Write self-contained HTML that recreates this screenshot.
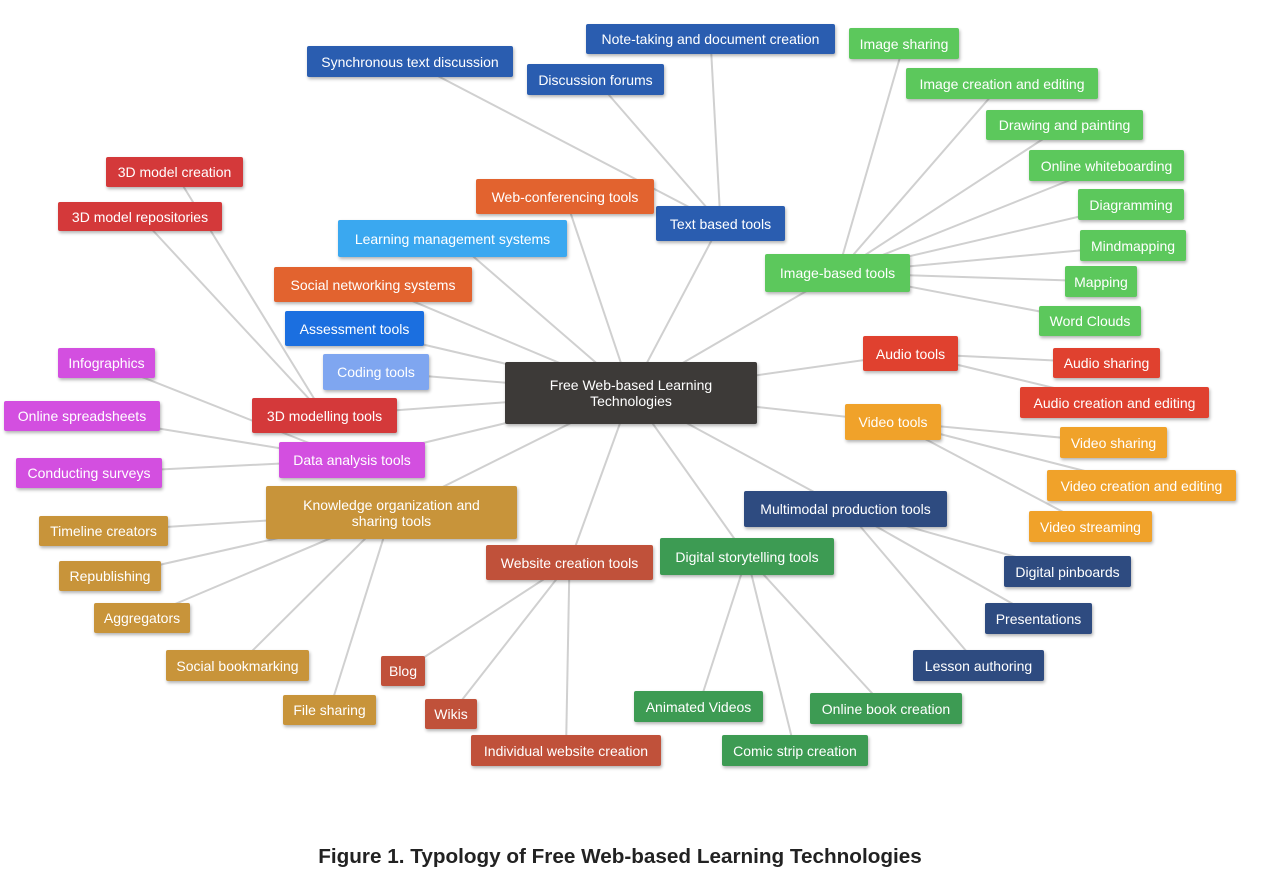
<!DOCTYPE html>
<html><head><meta charset="utf-8">
<style>
html,body{margin:0;padding:0;background:#fff;}
body{width:1280px;height:871px;position:relative;overflow:hidden;font-family:"Liberation Sans",sans-serif;}
.b{position:absolute;color:#fff;font-size:14px;display:flex;align-items:center;justify-content:center;text-align:center;border-radius:2px;box-shadow:1px 2px 3px rgba(0,0,0,0.3);line-height:16px;box-sizing:border-box;padding:0 4px;white-space:nowrap;}
svg{position:absolute;left:0;top:0;}
#cap{position:absolute;left:0;width:1240px;top:845px;text-align:center;font-weight:bold;font-size:20.7px;color:#222;}
</style></head><body>
<svg id="s" width="1280" height="871"></svg>
<div id="boxes"></div>
<div id="cap">Figure 1. Typology of Free Web-based Learning Technologies</div>
<script>
var B={
C:[505,362,757,424,"#3d3a38","Free Web-based Learning<br>Technologies"],
T:[656,206,785,241,"#2a5db0","Text based tools"],
t1:[307,46,513,77,"#2a5db0","Synchronous text discussion"],
t2:[586,24,835,54,"#2a5db0","Note-taking and document creation"],
t3:[527,64,664,95,"#2a5db0","Discussion forums"],
W:[476,179,654,214,"#e2632f","Web-conferencing tools"],
L:[338,220,567,257,"#3aa8f0","Learning management systems"],
S:[274,267,472,302,"#e2632f","Social networking systems"],
A:[285,311,424,346,"#1b6fe0","Assessment tools"],
Co:[323,354,429,390,"#7fa6f0","Coding tools"],
M3:[252,398,397,433,"#d4393a","3D modelling tools"],
m1:[106,157,243,187,"#d4393a","3D model creation"],
m2:[58,202,222,231,"#d4393a","3D model repositories"],
D:[279,442,425,478,"#d34fe0","Data analysis tools"],
d1:[58,348,155,378,"#d34fe0","Infographics"],
d2:[4,401,160,431,"#d34fe0","Online spreadsheets"],
d3:[16,458,162,488,"#d34fe0","Conducting surveys"],
K:[266,486,517,539,"#c8943a","Knowledge organization and<br>sharing tools"],
k1:[39,516,168,546,"#c8943a","Timeline creators"],
k2:[59,561,161,591,"#c8943a","Republishing"],
k3:[94,603,190,633,"#c8943a","Aggregators"],
k4:[166,650,309,681,"#c8943a","Social bookmarking"],
k5:[283,695,376,725,"#c8943a","File sharing"],
Ws:[486,545,653,580,"#c0513a","Website creation tools"],
w1:[381,656,425,686,"#c0513a","Blog"],
w2:[425,699,477,729,"#c0513a","Wikis"],
w3:[471,735,661,766,"#c0513a","Individual website creation"],
Ds:[660,538,834,575,"#3d9b53","Digital storytelling tools"],
s1:[634,691,763,722,"#3d9b53","Animated Videos"],
s2:[722,735,868,766,"#3d9b53","Comic strip creation"],
s3:[810,693,962,724,"#3d9b53","Online book creation"],
Mm:[744,491,947,527,"#2e4b80","Multimodal production tools"],
p1:[1004,556,1131,587,"#2e4b80","Digital pinboards"],
p2:[985,603,1092,634,"#2e4b80","Presentations"],
p3:[913,650,1044,681,"#2e4b80","Lesson authoring"],
I:[765,254,910,292,"#5cc85c","Image-based tools"],
i1:[849,28,959,59,"#5cc85c","Image sharing"],
i2:[906,68,1098,99,"#5cc85c","Image creation and editing"],
i3:[986,110,1143,140,"#5cc85c","Drawing and painting"],
i4:[1029,150,1184,181,"#5cc85c","Online whiteboarding"],
i5:[1078,189,1184,220,"#5cc85c","Diagramming"],
i6:[1080,230,1186,261,"#5cc85c","Mindmapping"],
i7:[1065,266,1137,297,"#5cc85c","Mapping"],
i8:[1039,306,1141,336,"#5cc85c","Word Clouds"],
Au:[863,336,958,371,"#e0412f","Audio tools"],
a1:[1053,348,1160,378,"#e0412f","Audio sharing"],
a2:[1020,387,1209,418,"#e0412f","Audio creation and editing"],
V:[845,404,941,440,"#f0a22a","Video tools"],
v1:[1060,427,1167,458,"#f0a22a","Video sharing"],
v2:[1047,470,1236,501,"#f0a22a","Video creation and editing"],
v3:[1029,511,1152,542,"#f0a22a","Video streaming"]
};
var E=[["C","T"],["C","W"],["C","L"],["C","S"],["C","A"],["C","Co"],["C","M3"],["C","D"],["C","K"],["C","Ws"],["C","Ds"],["C","Mm"],["C","I"],["C","Au"],["C","V"],
["T","t1"],["T","t2"],["T","t3"],["M3","m1"],["M3","m2"],["D","d1"],["D","d2"],["D","d3"],
["K","k1"],["K","k2"],["K","k3"],["K","k4"],["K","k5"],["Ws","w1"],["Ws","w2"],["Ws","w3"],
["Ds","s1"],["Ds","s2"],["Ds","s3"],["Mm","p1"],["Mm","p2"],["Mm","p3"],
["I","i1"],["I","i2"],["I","i3"],["I","i4"],["I","i5"],["I","i6"],["I","i7"],["I","i8"],
["Au","a1"],["Au","a2"],["V","v1"],["V","v2"],["V","v3"]];
function c(k){var b=B[k];return[(b[0]+b[2])/2,(b[1]+b[3])/2];}
var s="";
E.forEach(function(e){var p=c(e[0]),q=c(e[1]);s+='<line x1="'+p[0]+'" y1="'+p[1]+'" x2="'+q[0]+'" y2="'+q[1]+'" stroke="#d0d0d0" stroke-width="2"/>';});
document.getElementById("s").innerHTML=s;
var h="";
for(var k in B){var b=B[k];h+='<div class="b" style="left:'+b[0]+'px;top:'+b[1]+'px;width:'+(b[2]-b[0])+'px;height:'+(b[3]-b[1])+'px;background:'+b[4]+'">'+b[5]+'</div>';}
document.getElementById("boxes").innerHTML=h;
</script>
</body></html>
